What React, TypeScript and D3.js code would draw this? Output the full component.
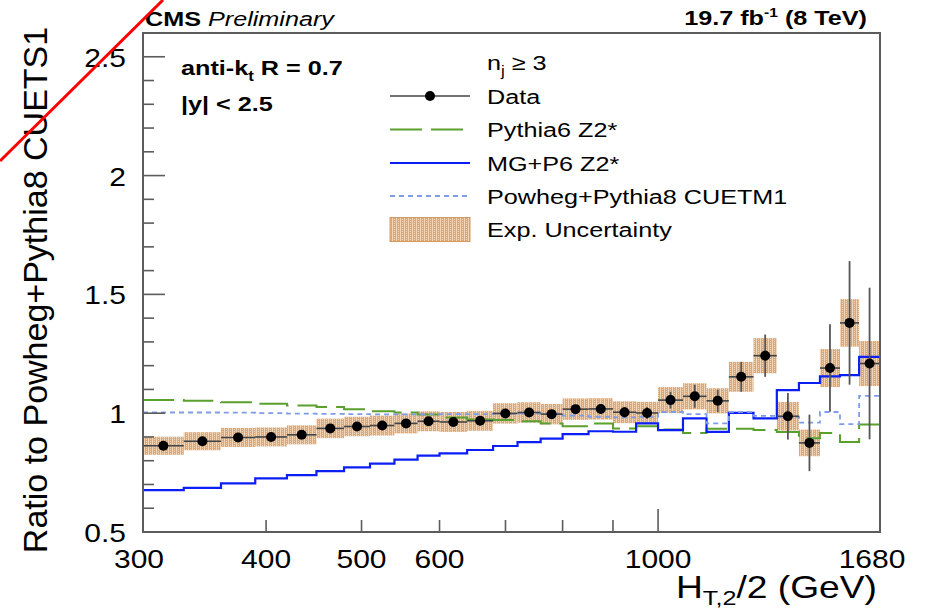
import React from 'react';
import * as d3 from 'd3';

// Bin edges of H_T,2/2 in GeV
const binEdges = [300, 330, 360, 390, 420, 450, 480, 510, 540, 570, 600, 640, 680, 720, 760, 800, 850, 900, 950, 1000, 1060, 1120, 1180, 1250, 1320, 1390, 1460, 1530, 1600, 1680];

// Data / Powheg+Pythia8 CUETS1
const dataRatio = [0.863, 0.882, 0.898, 0.900, 0.909, 0.936, 0.944, 0.948, 0.957, 0.966, 0.963, 0.968, 0.999, 1.003, 0.996, 1.017, 1.018, 1.004, 1.001, 1.055, 1.071, 1.052, 1.153, 1.242, 0.987, 0.875, 1.19, 1.38, 1.209];
const statErr = [0.008, 0.008, 0.008, 0.008, 0.008, 0.009, 0.009, 0.01, 0.01, 0.011, 0.012, 0.013, 0.014, 0.015, 0.016, 0.018, 0.02, 0.022, 0.025, 0.035, 0.048, 0.047, 0.063, 0.089, 0.098, 0.119, 0.184, 0.26, 0.319];
const expErr = [0.038, 0.038, 0.04, 0.04, 0.04, 0.041, 0.041, 0.042, 0.042, 0.042, 0.042, 0.042, 0.043, 0.043, 0.043, 0.045, 0.045, 0.046, 0.047, 0.055, 0.055, 0.053, 0.063, 0.074, 0.06, 0.056, 0.08, 0.1, 0.095];

// MC predictions / Powheg+Pythia8 CUETS1
const pythia6Z2 = [1.055, 1.052, 1.046, 1.040, 1.032, 1.026, 1.017, 1.008, 1.003, 0.995, 0.982, 0.973, 0.971, 0.966, 0.957, 0.945, 0.957, 0.936, 0.945, 0.931, 0.917, 0.935, 0.935, 0.929, 0.921, 0.895, 0.917, 0.879, 0.952];
const mgP6Z2 = [0.676, 0.686, 0.705, 0.726, 0.739, 0.756, 0.772, 0.788, 0.805, 0.821, 0.831, 0.845, 0.862, 0.878, 0.893, 0.912, 0.924, 0.922, 0.957, 0.929, 0.978, 0.921, 1.001, 0.978, 1.097, 1.127, 1.155, 1.16, 1.237];
const powhegCUETM1 = [1.003, 1.003, 1.002, 1.0, 0.998, 0.997, 0.996, 0.995, 0.995, 0.995, 0.996, 0.996, 0.998, 0.999, 0.998, 0.99, 0.985, 0.982, 0.985, 1.005, 0.996, 0.957, 1.005, 0.989, 0.985, 0.96, 1.005, 0.954, 1.073];

// Axis ticks and labels
const yMajorTicks = [0.5, 1, 1.5, 2, 2.5];
const yTickLabels = ['0.5', '1', '1.5', '2', '2.5'];
const xLabelValues = [300, 400, 500, 600, 1000, 1680];
const xMinorTicks = [400, 500, 600, 700, 800, 900];
const xMajorTicks = [1000];

const W = 925;
const H = 609;
const FR = { left: 143, right: 880, top: 33, bottom: 532 };
const SX = 1.2; // wide glyphs for horizontal text
const FONT = '"Liberation Sans", Arial, Helvetica, sans-serif';
const AXIS_COL = '#5c5c5c';

type TProps = {
  x: number; y: number; size: number; anchor?: string; weight?: string; italic?: boolean;
  children: React.ReactNode;
};
function WText({ x, y, size, anchor = 'start', weight = 'normal', italic = false, children }: TProps) {
  return (
    <text
      transform={`translate(${x},${y}) scale(${SX},1)`}
      fontFamily={FONT}
      fontSize={size}
      fontWeight={weight}
      fontStyle={italic ? 'italic' : 'normal'}
      textAnchor={anchor}
      fill="#000"
    >
      {children}
    </text>
  );
}

export default function App() {
  const x = d3.scaleLog().domain([300, 1680]).range([FR.left, FR.right]);
  const y = d3.scaleLinear().domain([0.5, 2.6]).range([FR.bottom, FR.top]);
  const n = dataRatio.length;

  const step = (vals: number[]) => {
    const pts: [number, number][] = vals.map((v, i) => [binEdges[i], v]);
    pts.push([binEdges[n], vals[n - 1]]);
    return d3.line<[number, number]>()
      .x((d) => x(d[0]))
      .y((d) => y(d[1]))
      .curve(d3.curveStepAfter)(pts) as string;
  };

  const yMinor = d3.range(5, 26).map((v) => v / 10).filter((v) => !yMajorTicks.some((m) => Math.abs(m - v) < 1e-6));
  const centers = dataRatio.map((_, i) => Math.sqrt(binEdges[i] * binEdges[i + 1]));

  const legendRows = [96, 129.5, 163, 196, 229.5];
  const lx0 = 390, lx1 = 470, ltx = 487;

  return (
    <svg width={W} height={H} style={{ position: 'absolute', left: 0, top: 0, background: '#fff' }}>
      <defs>
        <pattern id="expUnc" width={4} height={4} patternUnits="userSpaceOnUse">
          <rect width={4} height={4} fill="#dca877" />
          <rect x={0} y={0} width={1} height={4} fill="#f1d5b9" />
          <rect x={2} y={1} width={1} height={1} fill="#f1d5b9" />
          <rect x={2} y={3} width={1} height={1} fill="#f1d5b9" />
        </pattern>
      </defs>
      <rect width={W} height={H} fill="#fff" />

      {/* experimental uncertainty boxes */}
      <g>
        {dataRatio.map((v, i) => (
          <rect
            key={i}
            x={x(binEdges[i])}
            width={x(binEdges[i + 1]) - x(binEdges[i])}
            y={y(v + expErr[i])}
            height={y(v - expErr[i]) - y(v + expErr[i])}
            fill="url(#expUnc)"
          />
        ))}
      </g>

      {/* MC curves */}
      <path d={step(pythia6Z2)} fill="none" stroke="#5aa02c" strokeWidth={2} strokeDasharray="31,9" />
      <path d={step(mgP6Z2)} fill="none" stroke="#0b1ff5" strokeWidth={2.2} />
      <path d={step(powhegCUETM1)} fill="none" stroke="#7f9ce6" strokeWidth={1.8} strokeDasharray="5,4" />

      {/* data with error bars */}
      <g>
        {dataRatio.map((v, i) => (
          <g key={i}>
            <line x1={x(binEdges[i])} x2={x(binEdges[i + 1])} y1={y(v)} y2={y(v)} stroke="#444" strokeWidth={1.6} />
            <line x1={x(centers[i])} x2={x(centers[i])} y1={y(v - statErr[i])} y2={y(v + statErr[i])} stroke="#555" strokeWidth={1.8} />
            <circle cx={x(centers[i])} cy={y(v)} r={5} fill="#000" />
          </g>
        ))}
      </g>

      {/* frame */}
      <rect x={FR.left} y={FR.top} width={FR.right - FR.left} height={FR.bottom - FR.top} fill="none" stroke={AXIS_COL} strokeWidth={2} />

      {/* y ticks */}
      {yMajorTicks.map((t) => (
        <line key={'ym' + t} x1={FR.left} x2={FR.left + 22} y1={y(t)} y2={y(t)} stroke={AXIS_COL} strokeWidth={1.6} />
      ))}
      {yMinor.map((t) => (
        <line key={'yn' + t} x1={FR.left} x2={FR.left + 11} y1={y(t)} y2={y(t)} stroke={AXIS_COL} strokeWidth={1.6} />
      ))}
      {yMajorTicks.map((t, i) => (
        <WText key={'yl' + t} x={126} y={y(t) + 10} size={25} anchor="end">{yTickLabels[i]}</WText>
      ))}

      {/* x ticks */}
      {xMinorTicks.map((t) => (
        <line key={'xn' + t} x1={x(t)} x2={x(t)} y1={FR.bottom} y2={FR.bottom - 12} stroke={AXIS_COL} strokeWidth={1.6} />
      ))}
      {xMajorTicks.map((t) => (
        <line key={'xm' + t} x1={x(t)} x2={x(t)} y1={FR.bottom} y2={FR.bottom - 23} stroke={AXIS_COL} strokeWidth={1.6} />
      ))}
      {xLabelValues.map((t) => (
        <WText key={'xl' + t} x={x(t) - (t === 1680 ? 8 : t === 300 ? 4 : 0)} y={568} size={25} anchor="middle">{String(t)}</WText>
      ))}

      {/* axis titles */}
      <WText x={877} y={598} size={31} anchor="end">
        H<tspan fontSize={21} dy={7}>T,2</tspan><tspan dy={-7}>/2 (GeV)</tspan>
      </WText>
      <text
        transform={`translate(47,290) rotate(-90)`}
        fontFamily={FONT}
        fontSize={34}
        textAnchor="middle"
        fill="#000"
      >
        Ratio to Powheg+Pythia8 CUETS1
      </text>

      {/* header */}
      <WText x={145} y={26} size={21} weight="bold">
        CMS <tspan fontWeight="normal" fontStyle="italic">Preliminary</tspan>
      </WText>
      <WText x={867} y={25} size={21} weight="bold" anchor="end">
        19.7 fb<tspan fontSize={13} dy={-8}>-1</tspan><tspan dy={8}> (8 TeV)</tspan>
      </WText>

      {/* selection info */}
      <WText x={181} y={75} size={21} weight="bold">
        anti-k<tspan fontSize={14} dy={6}>t</tspan><tspan dy={-6}> R = 0.7</tspan>
      </WText>
      <WText x={181} y={111} size={21} weight="bold">|y| &lt; 2.5</WText>

      {/* legend */}
      <WText x={ltx} y={70} size={21}>
        n<tspan fontSize={14} dy={6}>j</tspan><tspan dy={-6}> ≥ 3</tspan>
      </WText>
      <line x1={lx0} x2={lx1} y1={legendRows[0]} y2={legendRows[0]} stroke="#444" strokeWidth={1.6} />
      <circle cx={(lx0 + lx1) / 2} cy={legendRows[0]} r={5} fill="#000" />
      <WText x={ltx} y={legendRows[0] + 7.5} size={21}>Data</WText>

      <line x1={lx0} x2={lx1} y1={legendRows[1]} y2={legendRows[1]} stroke="#5aa02c" strokeWidth={2} strokeDasharray="32,9" />
      <WText x={ltx} y={legendRows[1] + 7.5} size={21}>Pythia6 Z2*</WText>

      <line x1={lx0} x2={lx1} y1={legendRows[2]} y2={legendRows[2]} stroke="#0b1ff5" strokeWidth={2.2} />
      <WText x={ltx} y={legendRows[2] + 7.5} size={21}>MG+P6 Z2*</WText>

      <line x1={lx0} x2={lx1} y1={legendRows[3]} y2={legendRows[3]} stroke="#7f9ce6" strokeWidth={1.8} strokeDasharray="5,4" />
      <WText x={ltx} y={legendRows[3] + 7.5} size={21}>Powheg+Pythia8 CUETM1</WText>

      <rect x={lx0} y={legendRows[4] - 12} width={lx1 - lx0} height={24} fill="url(#expUnc)" stroke="#d9985e" strokeWidth={1} />
      <WText x={ltx} y={legendRows[4] + 7.5} size={21}>Exp. Uncertainty</WText>

      {/* red stroke across the corner */}
      <line x1={0} y1={161} x2={163} y2={0} stroke="#ff0000" strokeWidth={3} />
    </svg>
  );
}
